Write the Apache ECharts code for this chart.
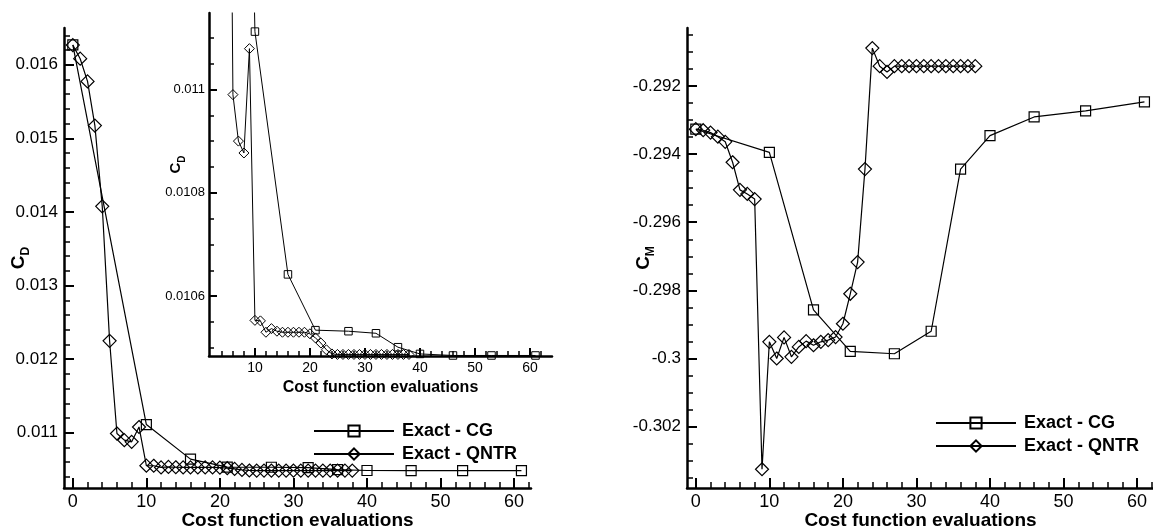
<!DOCTYPE html>
<html style="height: 100%">
<head>
  <meta charset="utf-8">
  <title>Cost function evaluations</title>
</head>
<body style="height: 100%; margin: 0; background: #fff">
<div id="container" style="width: 1153px; height: 530px"></div>
<script src="https://cdn.jsdelivr.net/npm/echarts@6/dist/echarts.min.js"></script>
<script>
  // ---- data ----
  var cgEvals = [0, 10, 16, 21, 27, 32, 36, 40, 46, 53, 61];
  var cgCD = [0.01627, 0.011112, 0.010642, 0.010534, 0.010532, 0.010528, 0.010501, 0.010488, 0.010485, 0.010485, 0.010485];
  var cgCM = [-0.29327, -0.29395, -0.29857, -0.29979, -0.29986, -0.2992, -0.29444, -0.29346, -0.29291, -0.29273, -0.29247];

  var qntrEvals = [0, 1, 2, 3, 4, 5, 6, 7, 8, 9, 10, 11, 12, 13, 14, 15, 16, 17, 18, 19,
    20, 21, 22, 23, 24, 25, 26, 27, 28, 29, 30, 31, 32, 33, 34, 35, 36, 37, 38];
  var qntrCD = [0.016268, 0.016083, 0.015774, 0.015174, 0.014077, 0.01225, 0.01099, 0.0109, 0.010877, 0.011079,
    0.010553, 0.010552, 0.01053, 0.010537, 0.010532, 0.01053, 0.01053, 0.01053, 0.01053, 0.01053,
    0.010527, 0.010519, 0.010509, 0.010496, 0.010488, 0.010487, 0.010487, 0.010487, 0.010487, 0.010487,
    0.010487, 0.010487, 0.010487, 0.010487, 0.010487, 0.010487, 0.010487, 0.010487, 0.010487];
  var qntrCM = [-0.29327, -0.2933, -0.29337, -0.29349, -0.29364, -0.29424, -0.29505, -0.29517, -0.29532, -0.30325,
    -0.29951, -0.3, -0.29938, -0.29995, -0.29966, -0.29949, -0.29961, -0.29951, -0.29946, -0.29937,
    -0.29898, -0.2981, -0.29717, -0.29444, -0.29089, -0.29142, -0.29159, -0.29142, -0.29142, -0.29142,
    -0.29142, -0.29142, -0.29142, -0.29142, -0.29142, -0.29142, -0.29142, -0.29142, -0.29142];

  // tick labels
  var evalTicks = [0, 10, 20, 30, 40, 50, 60];
  var evalTicksInset = [10, 20, 30, 40, 50, 60];
  var cdTicks = [0.011, 0.012, 0.013, 0.014, 0.015, 0.016];
  var cdTicksInset = [0.0106, 0.0108, 0.011];
  var cmTicks = [-0.302, -0.3, -0.298, -0.296, -0.294, -0.292];
  var seriesNames = ['Exact - CG', 'Exact - QNTR'];

  var font = 'Liberation Sans, Arial, Helvetica, sans-serif';

  function zip(xs, ys) {
    return xs.map(function (x, i) { return [x, ys[i]]; });
  }
  // minor tick positions between majors
  function minors(from, to, step, majors) {
    var out = [];
    var n = Math.round((to - from) / step);
    for (var i = 0; i <= n; i++) {
      var v = +(from + i * step).toFixed(6);
      var isMajor = majors.some(function (m) { return Math.abs(m - v) < step / 10; });
      if (!isMajor) out.push(v);
    }
    return out;
  }

  // a major axis (line, labels, long ticks) and an overlaid minor one (short ticks only)
  function axisPair(pos, gridIndex, min, max, major, minor, o) {
    var base = {
      type: 'value', gridIndex: gridIndex, position: pos, min: min, max: max,
      splitLine: { show: false }
    };
    var maj = Object.assign({}, base, {
      axisLine: { show: true, onZero: false, lineStyle: { color: '#000', width: 2.5 } },
      axisTick: { show: true, inside: true, length: o.majorLen, customValues: major,
        lineStyle: { color: '#000', width: 2 } },
      axisLabel: { show: true, customValues: major, margin: o.margin, color: '#000',
        fontFamily: font, fontSize: o.fontSize,
        formatter: function (v) { return String(+v.toFixed(6)); } },
      name: o.name, nameLocation: 'middle', nameGap: o.nameGap, nameRotate: o.nameRotate,
      nameMoveOverlap: false,
      nameTextStyle: o.nameStyle
    });
    var mnr = Object.assign({}, base, {
      axisLine: { show: false, onZero: false },
      axisTick: { show: true, inside: true, length: o.minorLen, customValues: minor,
        lineStyle: { color: '#000', width: 1.5 } },
      axisLabel: { show: false }
    });
    return [maj, mnr];
  }

  var evalName = 'Cost function evaluations';
  var titleStyle = function (size) {
    return { color: '#000', fontFamily: font, fontWeight: 'bold', fontSize: size };
  };
  // shift moves the rotated name up along the axis
  var coefStyle = function (big, small, shift) {
    return {
      padding: [0, 0, 0, shift],
      rich: {
        c: { fontFamily: font, fontWeight: 'bold', fontSize: big, color: '#000', lineHeight: big + 4, verticalAlign: 'top' },
        s: { fontFamily: font, fontWeight: 'bold', fontSize: small, color: '#000', lineHeight: big + 4, verticalAlign: 'bottom' }
      }
    };
  };

  var xMain = axisPair('bottom', 0, -1.2, 62.3, evalTicks, minors(2, 62, 2, evalTicks),
    { majorLen: 10, minorLen: 6, margin: 5, fontSize: 18, name: evalName, nameGap: 23, nameStyle: titleStyle(19) });
  var yMain = axisPair('left', 0, 0.01025, 0.0165, cdTicks, minors(0.0104, 0.0164, 0.0002, cdTicks),
    { majorLen: 10, minorLen: 6, margin: 6, fontSize: 17, name: '{c|C}{s|D}', nameGap: 32, nameRotate: 90, nameStyle: coefStyle(19, 12, 0) });

  var xInset = axisPair('bottom', 1, 1.65, 64, evalTicksInset, minors(4, 62, 2, evalTicksInset),
    { majorLen: 8, minorLen: 5, margin: 5, fontSize: 14, name: evalName, nameGap: 24, nameStyle: titleStyle(16) });
  var yInset = axisPair('left', 1, 0.010484, 0.011148, cdTicksInset, minors(0.0105, 0.0111, 0.00005, cdTicksInset),
    { majorLen: 8, minorLen: 5, margin: 4, fontSize: 13, name: '{c|C}{s|D}', nameGap: 22, nameRotate: 90, nameStyle: coefStyle(15, 10, 40) });

  var xRight = axisPair('bottom', 2, -1.2, 62.3, evalTicks, minors(2, 62, 2, evalTicks),
    { majorLen: 10, minorLen: 6, margin: 5, fontSize: 18, name: evalName, nameGap: 23, nameStyle: titleStyle(19) });
  var yRight = axisPair('left', 2, -0.3038, -0.2903, cmTicks, minors(-0.3035, -0.2905, 0.0005, cmTicks),
    { majorLen: 10, minorLen: 6, margin: 6, fontSize: 17, name: '{c|C}{s|M}', nameGap: 30, nameRotate: 90, nameStyle: coefStyle(19, 12, 0) });

  function lineSeries(name, axisIdx, data, symbol, size, width) {
    return {
      type: 'line', name: name, xAxisIndex: axisIdx, yAxisIndex: axisIdx, data: data,
      symbol: symbol, symbolSize: size, showAllSymbol: true, clip: true,
      lineStyle: { color: '#000', width: width },
      itemStyle: { color: 'rgba(0,0,0,0)', borderColor: '#000', borderWidth: width },
      emphasis: { disabled: true }
    };
  }

  var legendBase = {
    data: seriesNames, orient: 'vertical', itemWidth: 80, itemHeight: 14, itemGap: 5,
    selectedMode: false,
    textStyle: { color: '#000', fontFamily: font, fontWeight: 'bold', fontSize: 18, padding: [0, 0, 0, 3] }
  };

  var chart = echarts.init(document.getElementById('container'), null, { renderer: 'canvas' });
  chart.setOption({
    animation: false,
    backgroundColor: '#fff',
    grid: [
      { left: 64, top: 28, width: 467, height: 460, containLabel: false, outerBoundsMode: 'none' },
      { left: 209, top: 13, width: 343, height: 343, containLabel: false, outerBoundsMode: 'none' },
      { left: 687, top: 28, width: 467, height: 460, containLabel: false, outerBoundsMode: 'none' }
    ],
    xAxis: xMain.concat(xInset, xRight),
    yAxis: yMain.concat(yInset, yRight),
    legend: [
      Object.assign({}, legendBase, { left: 308, top: 417 }),
      Object.assign({}, legendBase, { left: 930, top: 409 })
    ],
    series: [
      lineSeries(seriesNames[0], 0, zip(cgEvals, cgCD), 'rect', 10, 1.2),
      lineSeries(seriesNames[1], 0, zip(qntrEvals, qntrCD), 'diamond', 13, 1.2),
      lineSeries(seriesNames[0], 2, zip(cgEvals, cgCD), 'rect', 7.5, 1),
      lineSeries(seriesNames[1], 2, zip(qntrEvals, qntrCD), 'diamond', 10, 1),
      lineSeries(seriesNames[0], 4, zip(cgEvals, cgCM), 'rect', 10, 1.2),
      lineSeries(seriesNames[1], 4, zip(qntrEvals, qntrCM), 'diamond', 13, 1.2)
    ]
  });
</script>
</body>
</html>
